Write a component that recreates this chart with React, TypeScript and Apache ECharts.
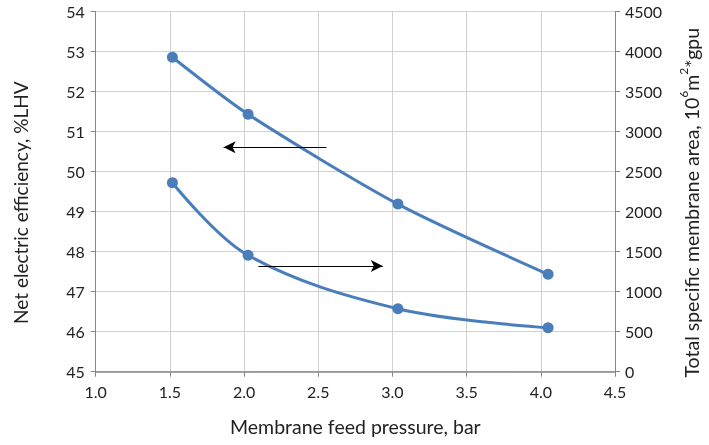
import React, { useEffect, useRef } from "react";
import * as echarts from "echarts";

const pressure = [1.517, 2.027, 3.037, 4.049];
const efficiency = [52.86, 51.435, 49.19, 47.435];
const pressureArea = [1.517, 2.027, 3.037, 4.049];
const membraneArea = [2362, 1455, 787, 550];
// arrow annotations [xStart, xEnd, yLeftAxis]
const leftArrow = [2.555, 1.862, 50.61];
const rightArrow = [2.097, 2.935, 47.64];

const FONT = "Lato";
const BLUE = "#4a7ebb";

export default function App() {
  const ref = useRef<HTMLDivElement>(null);
  useEffect(() => {
    if (!ref.current) return;
    const chart = echarts.init(ref.current, undefined, { renderer: "svg", width: 709, height: 445 });
    const arrowLine = (a: number[]) => ({
      silent: true,
      symbol: ["none", "arrow"],
      symbolSize: [9, 12],
      label: { show: false },
      lineStyle: { color: "#000", width: 1.2, type: "solid" },
      data: [[{ coord: [a[0], a[2]] }, { coord: [a[1], a[2]] }]],
    });
    chart.setOption({
      animation: false,
      textStyle: { fontFamily: FONT },
      grid: { left: 95.7, right: 88.3, top: 11.7, bottom: 73.3 },
      xAxis: {
        type: "value",
        min: 1,
        max: 4.5,
        interval: 0.5,
        name: "Membrane feed pressure, bar",
        nameLocation: "middle",
        nameGap: 45,
        nameTextStyle: { fontSize: 19.5, color: "#222", fontFamily: FONT },
        axisLine: { show: true, lineStyle: { color: "#868686", width: 1.5 } },
        axisTick: { show: true, length: 5, lineStyle: { color: "#868686" } },
        axisLabel: { formatter: (v: number) => v.toFixed(1), fontSize: 16, color: "#222", margin: 12, fontFamily: FONT },
        splitLine: { show: true, lineStyle: { color: "#d0d0d0", width: 1 } },
      },
      yAxis: [
        {
          type: "value",
          min: 45,
          max: 54,
          interval: 1,
          name: "Net electric efficiency, %LHV",
          nameLocation: "middle",
          nameGap: 66,
          nameTextStyle: { fontSize: 19, color: "#222", fontFamily: FONT, padding: [0, 22, 0, 0] },
          axisLine: { show: true, lineStyle: { color: "#868686" } },
          axisTick: { show: true, length: 5, lineStyle: { color: "#868686" } },
          axisLabel: { fontSize: 16, color: "#222", margin: 11, fontFamily: FONT },
          splitLine: { show: true, lineStyle: { color: "#d0d0d0", width: 1 } },
        },
        {
          type: "value",
          min: 0,
          max: 4500,
          interval: 500,
          position: "right",
          name: "{a|Total specific membrane area, 10}{s|6}{a|m}{s|2}{a|*gpu}",
          nameLocation: "middle",
          nameGap: 62,
          nameRotate: 90,
          nameTextStyle: {
            fontSize: 19.5,
            color: "#222",
            fontFamily: FONT,
            padding: [0, 22, 0, 0],
            rich: {
              a: { fontSize: 19.5, color: "#222", fontFamily: FONT, lineHeight: 24, verticalAlign: "bottom" },
              s: { fontSize: 12, color: "#222", fontFamily: FONT, lineHeight: 24, verticalAlign: "top" },
            },
          },
          axisLine: { show: true, lineStyle: { color: "#868686" } },
          axisTick: { show: true, length: 5, lineStyle: { color: "#868686" } },
          axisLabel: { formatter: (v: number) => String(v), fontSize: 16, color: "#222", margin: 10, fontFamily: FONT },
          splitLine: { show: false },
        },
      ],
      series: [
        {
          type: "line",
          yAxisIndex: 0,
          data: pressure.map((x, i) => [x, efficiency[i]]),
          smooth: 0.25,
          symbol: "circle",
          symbolSize: 11,
          lineStyle: { color: BLUE, width: 3 },
          itemStyle: { color: BLUE },
          markLine: arrowLine(leftArrow),
        },
        {
          type: "line",
          yAxisIndex: 1,
          data: pressureArea.map((x, i) => [x, membraneArea[i]]),
          smooth: 0.35,
          symbol: "circle",
          symbolSize: 11,
          lineStyle: { color: BLUE, width: 3 },
          itemStyle: { color: BLUE },
        },
        {
          type: "line",
          yAxisIndex: 0,
          data: [],
          markLine: arrowLine(rightArrow),
        },
      ],
    });
    return () => chart.dispose();
  }, []);
  return <div ref={ref} style={{ width: 709, height: 445, position: "fixed", left: 0, top: 0 }} />;
}
